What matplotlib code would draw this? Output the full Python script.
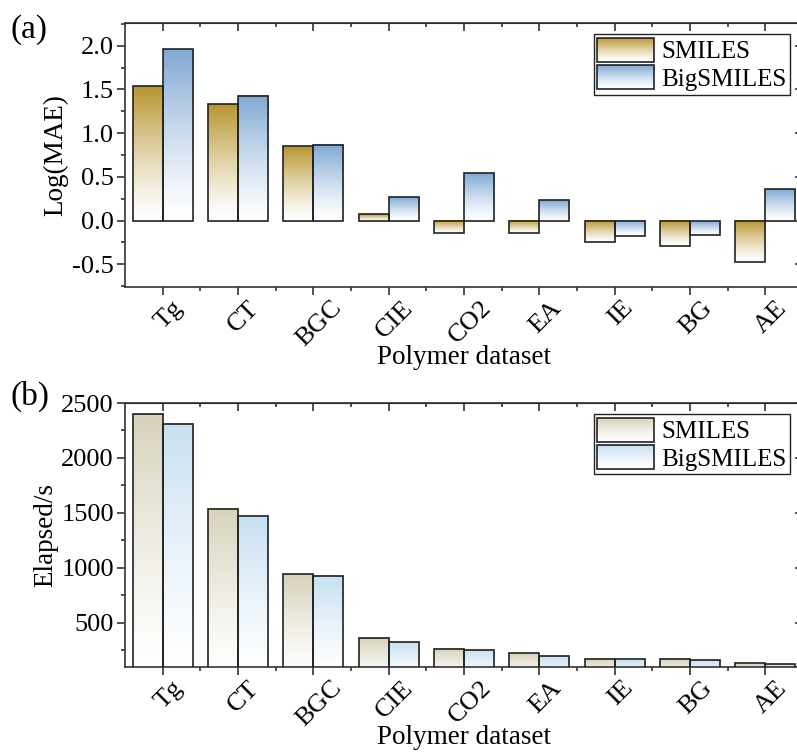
import numpy as np
import matplotlib
matplotlib.use("Agg")
import matplotlib.pyplot as plt
import matplotlib.transforms as mtransforms
from matplotlib.colors import LinearSegmentedColormap, to_rgb
from matplotlib.patches import Rectangle
from matplotlib.legend_handler import HandlerBase
from matplotlib.ticker import MultipleLocator

plt.rcParams['font.family'] = ['Liberation Serif', 'DejaVu Serif']
plt.rcParams['mathtext.fontset'] = 'stix'
plt.rcParams['axes.unicode_minus'] = False

categories = ["Tg", "CT", "BGC", "CIE", "CO2", "EA", "IE", "BG", "AE"]
series_names = ["SMILES", "BigSMILES"]
mae_smiles = [1.54, 1.33, 0.85, 0.07, -0.14, -0.14, -0.25, -0.29, -0.47]
mae_bigsmiles = [1.96, 1.43, 0.87, 0.27, 0.54, 0.24, -0.18, -0.16, 0.36]
time_smiles = [2400, 1535, 942, 362, 262, 222, 172, 170, 128]
time_bigsmiles = [2313, 1471, 927, 326, 250, 195, 164, 162, 122]

colors_a = ["#B8952F", "#80A9D3"]
colors_b = ["#D7D2BB", "#C7E0F2"]

TICK_FS = 19
LABEL_FS = 19.5
LEG_FS = 18

W, H = 797, 752
fig = plt.figure(figsize=(W / 100, H / 100), dpi=100)


def grad_cmap(c):
    return LinearSegmentedColormap.from_list("g", [(1, 1, 1), to_rgb(c)])


def grad_values(n=256, power=1.3):
    t = np.linspace(1, 0, n) ** power  # top = 1 (dark), bottom = 0 (white)
    return t.reshape(-1, 1)


def gradient_bars(ax, x, vals, width, color, edge="#222222"):
    cm = grad_cmap(color)
    g = grad_values()
    for xi, v in zip(x, vals):
        y0, y1 = (0, v) if v >= 0 else (v, 0)
        ax.imshow(g, extent=[xi, xi + width, y0, y1], origin="upper",
                  aspect="auto", cmap=cm, vmin=0, vmax=1, zorder=2,
                  interpolation="bilinear")
    ax.bar(x, vals, width=width, align="edge", facecolor="none",
           edgecolor=edge, linewidth=1.2, zorder=3)


class GradHandler(HandlerBase):
    def __init__(self, color):
        super().__init__()
        self.color = np.array(to_rgb(color))

    def create_artists(self, legend, orig_handle, xdescent, ydescent,
                       width, height, fontsize, trans):
        arts = []
        n = 30
        for i in range(n):
            t = ((i + 0.5) / n) ** 1.3  # 0 bottom -> 1 top
            c = 1 - t * (1 - self.color)
            r = Rectangle((-xdescent, -ydescent + i * height / n), width,
                          height / n + 0.01, facecolor=c, edgecolor="none",
                          transform=trans)
            arts.append(r)
        arts.append(Rectangle((-xdescent, -ydescent), width, height,
                              facecolor="none", edgecolor="#222222",
                              linewidth=1.2, transform=trans))
        return arts


def style_axes(ax, ymaj, ymin):
    for s in ax.spines.values():
        s.set_linewidth(1.2)
        s.set_color("#333333")
    ax.set_xlim(-0.5, len(categories) - 0.5)
    ax.set_xticks(np.arange(len(categories)))
    ax.set_xticklabels(categories, rotation=45, ha="center", va="top",
                       fontsize=TICK_FS)
    ax.set_xticks(np.arange(len(categories) - 1) + 0.5, minor=True)
    ax.yaxis.set_major_locator(MultipleLocator(ymaj))
    ax.yaxis.set_minor_locator(MultipleLocator(ymin))
    ax.tick_params(axis="both", which="both", direction="out",
                   color="#333333", width=1.2)
    ax.tick_params(axis="both", which="major", length=6, labelsize=TICK_FS)
    ax.tick_params(axis="both", which="minor", length=3)
    ax.tick_params(axis="x", which="major", pad=1)
    ax.tick_params(axis="y", which="major", pad=2)
    off = mtransforms.ScaledTranslation(6 / 100, 0, fig.dpi_scale_trans)
    for lab in ax.get_xticklabels():
        lab.set_transform(lab.get_transform() + off)
    sec = ax.secondary_xaxis("top")
    sec.set_xticks(np.arange(len(categories)))
    sec.set_xticks(np.arange(len(categories) - 1) + 0.5, minor=True)
    sec.tick_params(which="both", direction="in", labeltop=False,
                    color="#333333", width=1.2)
    sec.tick_params(which="major", length=6)
    sec.tick_params(which="minor", length=3)
    secy = ax.secondary_yaxis("right")
    secy.yaxis.set_major_locator(MultipleLocator(ymaj))
    secy.yaxis.set_minor_locator(MultipleLocator(ymin))
    secy.tick_params(which="both", direction="in", labelright=False,
                     color="#333333", width=1.2)
    secy.tick_params(which="major", length=6)
    secy.tick_params(which="minor", length=3)
    ax.set_xlabel("Polymer dataset", fontsize=LABEL_FS, labelpad=-4)


def add_legend(ax, colors, top_px):
    hs = [Rectangle((0, 0), 1, 1), Rectangle((0, 0), 1, 1)]
    leg = ax.legend(hs, series_names, loc="upper right",
                    bbox_to_anchor=(790 / W, 1 - top_px / H),
                    bbox_transform=fig.transFigure, fontsize=LEG_FS,
                    handler_map={hs[0]: GradHandler(colors[0]),
                                 hs[1]: GradHandler(colors[1])},
                    handlelength=2.25, handleheight=1.1, labelspacing=0.08,
                    handletextpad=0.3, borderpad=0.15, borderaxespad=0,
                    fancybox=False, framealpha=1, edgecolor="#222222")
    leg.get_frame().set_linewidth(1.0)


x = np.arange(len(categories))
bw = 0.4

# ---- (a)
axa = fig.add_axes([125 / W, 1 - 287 / H, 678 / W, 264 / H])
gradient_bars(axa, x - bw, mae_smiles, bw, colors_a[0])
gradient_bars(axa, x, mae_bigsmiles, bw, colors_a[1])
axa.set_ylim(-0.76, 2.26)
style_axes(axa, 0.5, 0.25)
axa.set_ylabel("Log(MAE)", fontsize=LABEL_FS, labelpad=3)
add_legend(axa, colors_a, 34)

# ---- (b)
axb = fig.add_axes([125 / W, 1 - 667 / H, 678 / W, 264 / H])
gradient_bars(axb, x - bw, time_smiles, bw, colors_b[0])
gradient_bars(axb, x, time_bigsmiles, bw, colors_b[1])
axb.set_ylim(95, 2500)
style_axes(axb, 500, 250)
axb.set_ylabel("Elapsed/s", fontsize=LABEL_FS, labelpad=2)
add_legend(axb, colors_b, 414)

fig.text(10 / W, 1 - 30 / H, "(a)", fontsize=24, va="center", ha="left")
fig.text(10 / W, 1 - 396 / H, "(b)", fontsize=24, va="center", ha="left")

fig.savefig("out.png", dpi=100)
